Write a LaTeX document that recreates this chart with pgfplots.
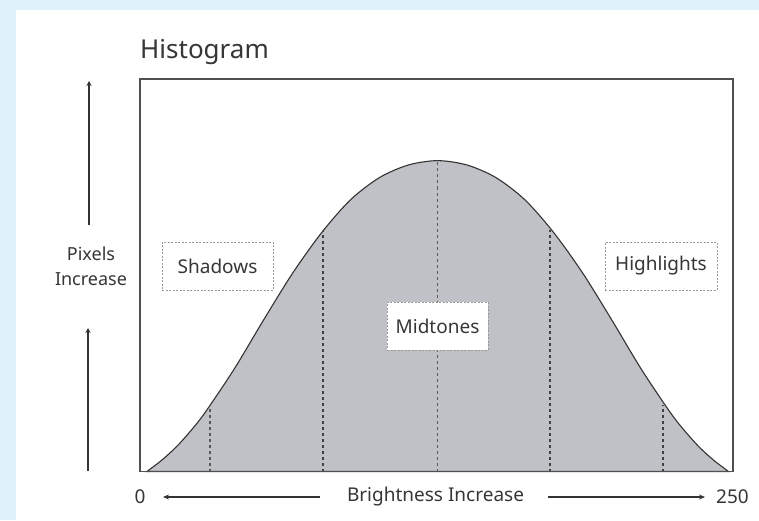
\documentclass[border=0pt]{standalone}
\usepackage{fontspec}
\setmainfont{Noto Sans}
\usepackage{pgfplots}
\pgfplotsset{compat=1.18}
\usetikzlibrary{arrows.meta}
\definecolor{bgblue}{HTML}{DFF1FA}
\definecolor{fillgray}{HTML}{BFC1C6}
\definecolor{txt}{HTML}{363636}
\definecolor{axline}{HTML}{505050}
\begin{document}
\begin{tikzpicture}[x=1pt,y=1pt]
\useasboundingbox (0,0) rectangle (759,520);
\fill[bgblue] (0,0) rectangle (759,520);
\fill[white] (16,0) rectangle (759,510);
\begin{axis}[at={(140pt,48.5pt)}, anchor=south west, scale only axis,
  width=593pt, height=392.5pt, xmin=0, xmax=250, ymin=0, ymax=100,
  ticks=none, axis line style={axline, line width=1.8pt}, axis on top, clip=false]
\addplot[fill=fillgray, draw=black!80, line width=1.1pt, smooth, tension=0.5] coordinates {
(2.9,0) (9.0,2.8) (15.2,6.2) (21.3,10.3) (27.4,15.0) (39.7,26.1) (51.9,38.4)
(64.2,50.4) (76.5,60.8) (88.7,69.2) (101.0,74.9) (113.2,78.1) (125.5,79.2)
(137.8,78.1) (150.0,74.9) (162.3,69.2) (174.5,60.8) (186.8,50.4) (199.1,38.4)
(211.3,26.1) (223.6,15.0) (229.7,10.3) (235.8,6.2) (242.0,2.8) (248.1,0)
} \closedcycle;
\addplot[gray!70!black, line width=1.4pt, dash pattern=on 3pt off 3pt] coordinates {(29.5,0) (29.5,16.6)};
\addplot[black!75, line width=1.8pt, dash pattern=on 3pt off 3pt] coordinates {(77.3,0) (77.3,61.2)};
\addplot[gray!70!black, line width=1.4pt, dash pattern=on 3pt off 3pt] coordinates {(125.5,0) (125.5,79.0)};
\addplot[black!75, line width=1.8pt, dash pattern=on 3pt off 3pt] coordinates {(172.8,0) (172.8,61.6)};
\addplot[black!75, line width=1.6pt, dash pattern=on 3pt off 3pt] coordinates {(220.6,0) (220.6,17.0)};
\end{axis}
\tikzset{lbl/.style={draw=gray!80, fill=white, line width=0.9pt, dash pattern=on 2pt off 1.5pt,
  minimum height=48pt, inner sep=0pt, text=txt, font=\fontsize{19}{23}\selectfont}}
\node[lbl, minimum width=111pt] at (217.5,254) {Shadows};
\node[lbl, minimum width=101pt] at (437.5,194) {Midtones};
\node[lbl, minimum width=112pt] at (661,254) {Highlights};
\node[anchor=base west, text=txt, inner sep=0pt, font=\fontsize{26}{30}\selectfont] at (140,461) {Histogram};
\node[align=center, text=txt, inner sep=0pt, font=\fontsize{18}{25}\selectfont] at (91,254) {Pixels\\Increase};
\draw[black!80, line width=1.3pt, -{Stealth[length=5pt,width=5pt]}] (89,295) -- (89,439);
\draw[black!80, line width=1.3pt, -{Stealth[length=5pt,width=5pt]}] (88,49) -- (88,192);
\node[text=txt, inner sep=0pt, font=\fontsize{19}{23}\selectfont] at (140,23) {0};
\draw[black!80, line width=1.3pt, -{Stealth[length=6pt,width=5pt]}] (320,23) -- (163,23);
\node[text=txt, inner sep=0pt, font=\fontsize{19}{23}\selectfont] at (435.5,23) {Brightness Increase};
\draw[black!80, line width=1.3pt, -{Stealth[length=6pt,width=5pt]}] (548,23) -- (705,23);
\node[text=txt, inner sep=0pt, font=\fontsize{19}{23}\selectfont] at (732.5,23) {250};
\end{tikzpicture}
\end{document}
